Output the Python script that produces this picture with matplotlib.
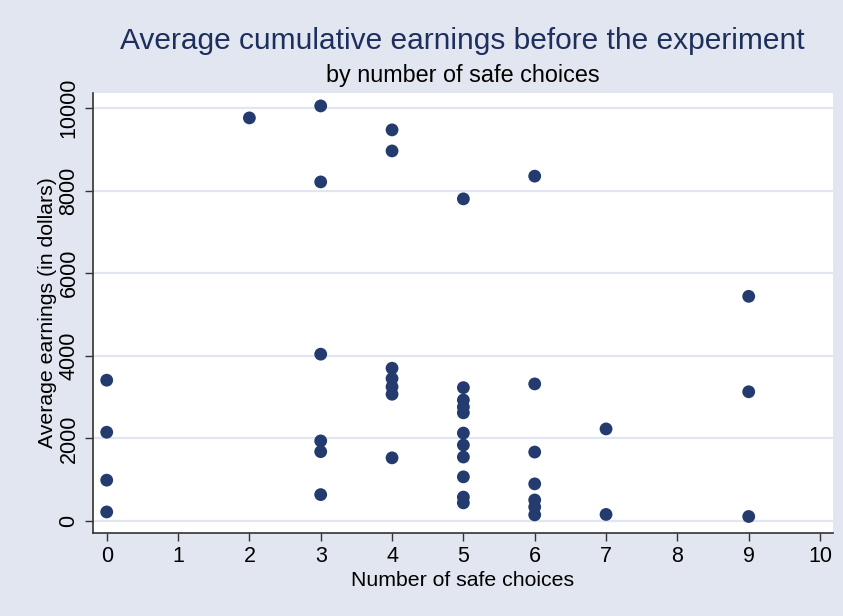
import matplotlib
matplotlib.use("Agg")
import matplotlib.pyplot as plt

# safe choices (x) and average earnings in dollars (y)
safe_0 = [3410, 2150, 990, 220]
safe_2 = [9760]
safe_3 = [10050, 8210, 4040, 1940, 1680, 640]
safe_4 = [9470, 8960, 3700, 3450, 3250, 3070, 1530]
safe_5 = [7800, 3230, 2930, 2760, 2620, 2130, 1840, 1550, 1070, 580, 440]
safe_6 = [8350, 3320, 1670, 900, 510, 340, 150]
safe_7 = [2230, 160]
safe_9 = [5440, 3130, 110]

groups = {0: safe_0, 2: safe_2, 3: safe_3, 4: safe_4, 5: safe_5,
          6: safe_6, 7: safe_7, 9: safe_9}
xs, ys = [], []
for k, vals in groups.items():
    xs += [k] * len(vals)
    ys += vals

x_ticks = list(range(0, 11))
y_ticks = [0, 2000, 4000, 6000, 8000, 10000]

bg = "#e1e6f0"
navy = "#233b6e"
plt.rcParams["font.family"] = ["Liberation Sans", "DejaVu Sans"]

fig = plt.figure(figsize=(8.43, 6.16), dpi=100, facecolor=bg)
ax = fig.add_axes([0.110, 0.1347, 0.878, 0.7148])
ax.set_facecolor("white")

for yt in y_ticks:
    ax.axhline(yt, color="#e1e6f0", lw=1.6, zorder=1)
ax.scatter(xs, ys, s=85, color=navy, edgecolors="none", zorder=3)

ax.set_xlim(-0.196, 10.18)
ax.set_ylim(-290, 10370)
ax.set_xticks(x_ticks)
ax.set_yticks(y_ticks)
ax.tick_params(axis="both", labelsize=15.5, length=6, width=1, color="#333333")
for lab in ax.get_yticklabels():
    lab.set_rotation(90)
    lab.set_va("center")
for side in ["top", "right"]:
    ax.spines[side].set_visible(False)
for side in ["left", "bottom"]:
    ax.spines[side].set_color("#333333")
    ax.spines[side].set_linewidth(1.2)

ax.set_xlabel("Number of safe choices", fontsize=15.3, labelpad=3)
ax.set_ylabel("Average earnings (in dollars)", fontsize=15.3, labelpad=1)

fig.text(0.549, 0.933, "Average cumulative earnings before the experiment",
         ha="center", va="center", fontsize=21.5, color="#1e2f5e")
fig.text(0.549, 0.877, "by number of safe choices",
         ha="center", va="center", fontsize=16.8, color="black")

fig.savefig("out.png", dpi=100, facecolor=bg)
